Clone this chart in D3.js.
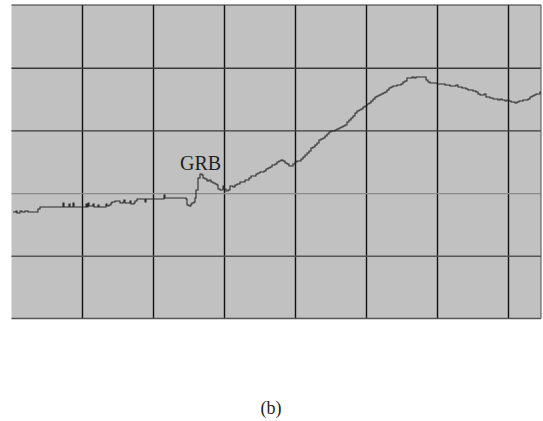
<!DOCTYPE html>
<html>
<head>
<meta charset="utf-8">
<script src="https://cdn.jsdelivr.net/npm/d3@7"></script>
<style>
  html, body { margin: 0; padding: 0; background: #ffffff; }
  svg { display: block; }
</style>
</head>
<body>
<svg id="chart" width="543" height="421"></svg>
<script>
// Recorded trace: sample index and detector level (counts above the bottom of the panel)
const sampleIndex = [
  1, 4, 5, 8, 10, 13, 16, 24, 26, 28, 50, 51, 52, 56, 57, 58, 60, 61, 62, 70,
  72, 74, 75, 76, 77, 80, 81, 82, 85, 86, 87, 93, 94, 95, 97, 99, 100, 103, 107, 108,
  111, 112, 113, 116, 118, 119, 122, 123, 125, 132, 133, 134, 151, 152, 153, 172, 174, 175, 177, 179,
  180, 182, 183, 184, 186, 188, 190, 191, 193, 195, 197, 199, 201, 203, 205, 206, 208, 210, 211, 212,
  214, 216, 218, 221, 223, 225, 228, 231, 233, 235, 237, 239, 242, 244, 246, 248, 250, 252, 254, 256,
  258, 260, 263, 265, 267, 269, 271, 273, 275, 277, 279, 281, 283, 285, 287, 289, 291, 293, 295, 297,
  299, 301, 303, 305, 307, 309, 311, 313, 315, 317, 319, 321, 323, 325, 327, 329, 331, 333, 335, 337,
  339, 341, 343, 345, 347, 349, 351, 353, 355, 357, 359, 361, 363, 365, 367, 369, 371, 373, 375, 377,
  379, 381, 385, 389, 391, 393, 395, 398, 400, 402, 404, 413, 414, 416, 418, 424, 425, 433, 438, 442,
  444, 446, 450, 454, 456, 461, 464, 466, 468, 472, 474, 478, 481, 486, 488, 490, 493, 495, 497, 499,
  503, 505, 507, 511, 516, 518, 520, 522, 524, 528, 529
];
const traceLevel = [
  106, 107, 105, 107, 106, 107, 106, 106, 109, 111, 111, 115, 111, 111, 114, 111, 111, 115, 111, 111,
  111, 114, 111, 115, 112, 112, 114, 111, 111, 113, 111, 111, 114, 112, 113, 115, 116, 117, 117, 115,
  116, 118, 115, 115, 117, 114, 115, 117, 119, 119, 116, 119, 119, 123, 120, 120, 119, 113, 112, 114,
  115, 116, 120, 128, 140, 144, 143, 140, 139, 137, 138, 136, 135, 134, 133, 129, 128, 128, 132, 129,
  127, 128, 132, 131, 133, 134, 136, 136, 138, 138, 140, 142, 142, 144, 145, 146, 146, 147, 149, 150,
  151, 153, 154, 156, 157, 158, 157, 155, 154, 152, 152, 154, 156, 157, 157, 159, 161, 163, 165, 167,
  170, 171, 173, 175, 178, 179, 180, 182, 184, 186, 187, 187, 188, 189, 190, 191, 192, 193, 196, 198,
  200, 202, 205, 207, 208, 209, 211, 212, 214, 215, 217, 219, 221, 222, 223, 224, 225, 226, 228, 230,
  231, 232, 233, 234, 236, 237, 240, 240, 241, 240, 241, 241, 238, 236, 235, 235, 234, 233, 232, 232,
  233, 231, 230, 229, 228, 227, 226, 224, 223, 224, 221, 220, 219, 218, 219, 218, 217, 218, 217, 216,
  215, 216, 217, 218, 219, 221, 222, 223, 224, 226, 226
];

// Panel geometry: 71 samples per vertical division, five level divisions
const samplesPerDivision = 71;
const sampleDomain = [-0.5, 529];
const levelDomain = [-0.5, 313];
const levelDivisions = 5;
const eventLabel = "GRB";
const panelLabel = "(b)";

const svg = d3.select("#chart");
const panelLeft = 11.5, panelRight = 541, panelTop = 5, panelBottom = 318.5;

const x = d3.scaleLinear().domain(sampleDomain).range([panelLeft, panelRight]);
const y = d3.scaleLinear().domain(levelDomain).range([panelBottom, panelTop]);

// Panel background
svg.append("rect")
  .attr("x", panelLeft).attr("y", panelTop)
  .attr("width", panelRight - panelLeft).attr("height", panelBottom - panelTop)
  .attr("fill", "#c1c1c1");

// Vertical grid (one line per division)
const xTicks = d3.range(samplesPerDivision - 1, sampleDomain[1], samplesPerDivision);
svg.append("g")
  .attr("transform", `translate(0,${panelBottom})`)
  .call(d3.axisBottom(x).tickValues(xTicks).tickSize(-(panelBottom - panelTop)).tickFormat(""))
  .call(g => g.select(".domain").remove())
  .call(g => g.selectAll(".tick line").attr("stroke", "#111").attr("stroke-width", 1.4));

// Horizontal grid
const levelStep = (levelDomain[1] - levelDomain[0]) / levelDivisions;
const yTicks = d3.range(1, levelDivisions).map(k => levelDomain[0] + k * levelStep);
const hColors = ["#555", "#8a8a8a", "#3a3a3a", "#3a3a3a"];
svg.append("g")
  .attr("transform", `translate(${panelLeft},0)`)
  .call(d3.axisLeft(y).tickValues(yTicks).tickSize(-(panelRight - panelLeft)).tickFormat(""))
  .call(g => g.select(".domain").remove())
  .call(g => g.selectAll(".tick line")
    .attr("stroke", (d, i) => hColors[i])
    .attr("stroke-width", 1.4));

// Panel edges
svg.append("line").attr("x1", panelLeft).attr("x2", panelRight).attr("y1", panelTop).attr("y2", panelTop)
  .attr("stroke", "#333").attr("stroke-width", 1.2);
svg.append("line").attr("x1", panelLeft).attr("x2", panelRight).attr("y1", panelBottom).attr("y2", panelBottom)
  .attr("stroke", "#555").attr("stroke-width", 1.4);
svg.append("line").attr("x1", panelRight).attr("x2", panelRight).attr("y1", panelTop).attr("y2", panelBottom)
  .attr("stroke", "#666").attr("stroke-width", 1.2);

// Trace
const points = sampleIndex.map((s, i) => [s, traceLevel[i]]);
const line = d3.line()
  .x(d => x(d[0]))
  .y(d => y(d[1]))
  .curve(d3.curveStepAfter);

svg.append("path")
  .datum(points)
  .attr("d", line)
  .attr("fill", "none")
  .attr("stroke", "#2a2a2a")
  .attr("stroke-width", 1.1);

// Event annotation
svg.append("text")
  .attr("x", x(168))
  .attr("y", y(148))
  .attr("font-family", "'Liberation Serif', 'DejaVu Serif', serif")
  .attr("font-size", 20)
  .attr("fill", "#222")
  .text(eventLabel);

// Panel caption
svg.append("text")
  .attr("x", 271)
  .attr("y", 414)
  .attr("text-anchor", "middle")
  .attr("font-family", "'Liberation Serif', 'DejaVu Serif', serif")
  .attr("font-size", 18)
  .attr("fill", "#222")
  .text(panelLabel);
</script>
</body>
</html>
